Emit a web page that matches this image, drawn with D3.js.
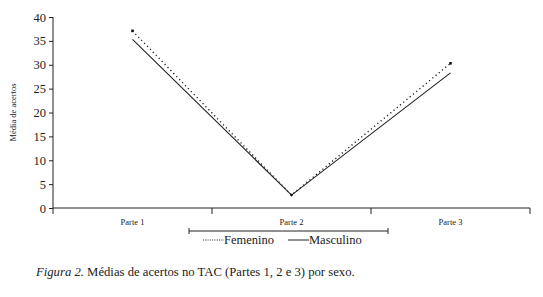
<!DOCTYPE html>
<html>
<head>
<meta charset="utf-8">
<script src="https://cdn.jsdelivr.net/npm/d3@7"></script>
<style>
  body { margin: 0; background: #fff; }
  svg { display: block; font-family: "Liberation Serif", "DejaVu Serif", serif; }
</style>
</head>
<body>
<svg id="chart"></svg>
<script>
let categories = ["Parte 1", "Parte 2", "Parte 3"];
let femenino = [37.1, 2.7, 30.3];
let masculino = [35.3, 2.7, 28.3];
let yTicks = [0, 5, 10, 15, 20, 25, 30, 35, 40];

let width = 543, height = 297;
let margin = {top: 17, right: 13, bottom: 89, left: 53};

let svg = d3.select("#chart").attr("width", width).attr("height", height);

let x = d3.scaleBand().domain(categories).range([margin.left, width - margin.right]).padding(0);
let y = d3.scaleLinear().domain([0, 40]).range([height - margin.bottom, margin.top]);
let cx = d => x(d) + x.bandwidth() / 2;

// y axis
let yAxis = svg.append("g")
    .attr("transform", `translate(${margin.left},0)`)
    .call(d3.axisLeft(y).tickValues(yTicks).tickSize(4).tickSizeOuter(0).tickPadding(3));
yAxis.select(".domain").attr("d", `M0,${margin.top}V${y(0) + 6}`).attr("stroke", "#222");
yAxis.selectAll(".tick line").attr("stroke", "#222");
yAxis.selectAll(".tick text")
    .style("font-family", "Liberation Serif")
    .style("font-size", "12.5px")
    .attr("fill", "#222");

// x axis
let xAxisG = svg.append("g").attr("transform", `translate(0,${y(0)})`);
xAxisG.append("line")
    .attr("x1", margin.left).attr("x2", width - margin.right)
    .attr("y1", 0).attr("y2", 0).attr("stroke", "#222");
xAxisG.selectAll(".sep")
    .data(categories)
    .join("line")
    .attr("x1", d => x(d) + x.bandwidth())
    .attr("x2", d => x(d) + x.bandwidth())
    .attr("y1", 0).attr("y2", 6)
    .attr("stroke", "#222");
xAxisG.selectAll(".lab")
    .data(categories)
    .join("text")
    .attr("x", d => cx(d))
    .attr("y", 17)
    .attr("text-anchor", "middle")
    .style("font-size", "8.5px")
    .attr("fill", "#222")
    .text(d => d);

// y title
svg.append("text")
    .attr("transform", `translate(16,${(margin.top + y(0)) / 2}) rotate(-90)`)
    .attr("text-anchor", "middle")
    .style("font-size", "8.5px")
    .attr("fill", "#222")
    .text("Média de acertos");

// lines
let line = d3.line().x((d, i) => cx(categories[i])).y(d => y(d));

svg.append("path")
    .datum(masculino)
    .attr("d", line)
    .attr("fill", "none")
    .attr("stroke", "#222")
    .attr("stroke-width", 1.1);

svg.append("path")
    .datum(femenino)
    .attr("d", line)
    .attr("fill", "none")
    .attr("stroke", "#222")
    .attr("stroke-width", 1.4)
    .attr("stroke-dasharray", "1.2,3");

// markers at the ends
svg.selectAll(".mk")
    .data([0, 2])
    .join("rect")
    .attr("x", i => cx(categories[i]) - 1.3)
    .attr("y", i => y(femenino[i]) - 1.3)
    .attr("width", 2.6).attr("height", 2.6)
    .attr("fill", "#111");
svg.append("circle")
    .attr("cx", cx(categories[1]))
    .attr("cy", y(masculino[1]))
    .attr("r", 1.3)
    .attr("fill", "#111");

// legend
let lg = svg.append("g");
let lgY = 231;
lg.append("line").attr("x1", 189).attr("x2", 388).attr("y1", lgY).attr("y2", lgY).attr("stroke", "#222");
[189, 388].forEach(px => lg.append("line").attr("x1", px).attr("x2", px).attr("y1", lgY - 3).attr("y2", lgY + 3).attr("stroke", "#222"));

lg.append("line").attr("x1", 203).attr("x2", 224).attr("y1", 240).attr("y2", 240)
    .attr("stroke", "#222").attr("stroke-dasharray", "1,1.3");
lg.append("text").attr("x", 224).attr("y", 244).style("font-size", "12.5px").attr("fill", "#222").text("Femenino");
lg.append("line").attr("x1", 288).attr("x2", 309).attr("y1", 240).attr("y2", 240).attr("stroke", "#222");
lg.append("text").attr("x", 309).attr("y", 244).style("font-size", "12.5px").attr("fill", "#222").text("Masculino");

// caption
let cap = svg.append("text").attr("x", 36).attr("y", 276).style("font-size", "12.7px").attr("fill", "#222");
cap.append("tspan").style("font-style", "italic").text("Figura 2.");
cap.append("tspan").text(" Médias de acertos no TAC (Partes 1, 2 e 3) por sexo.");
</script>
</body>
</html>
